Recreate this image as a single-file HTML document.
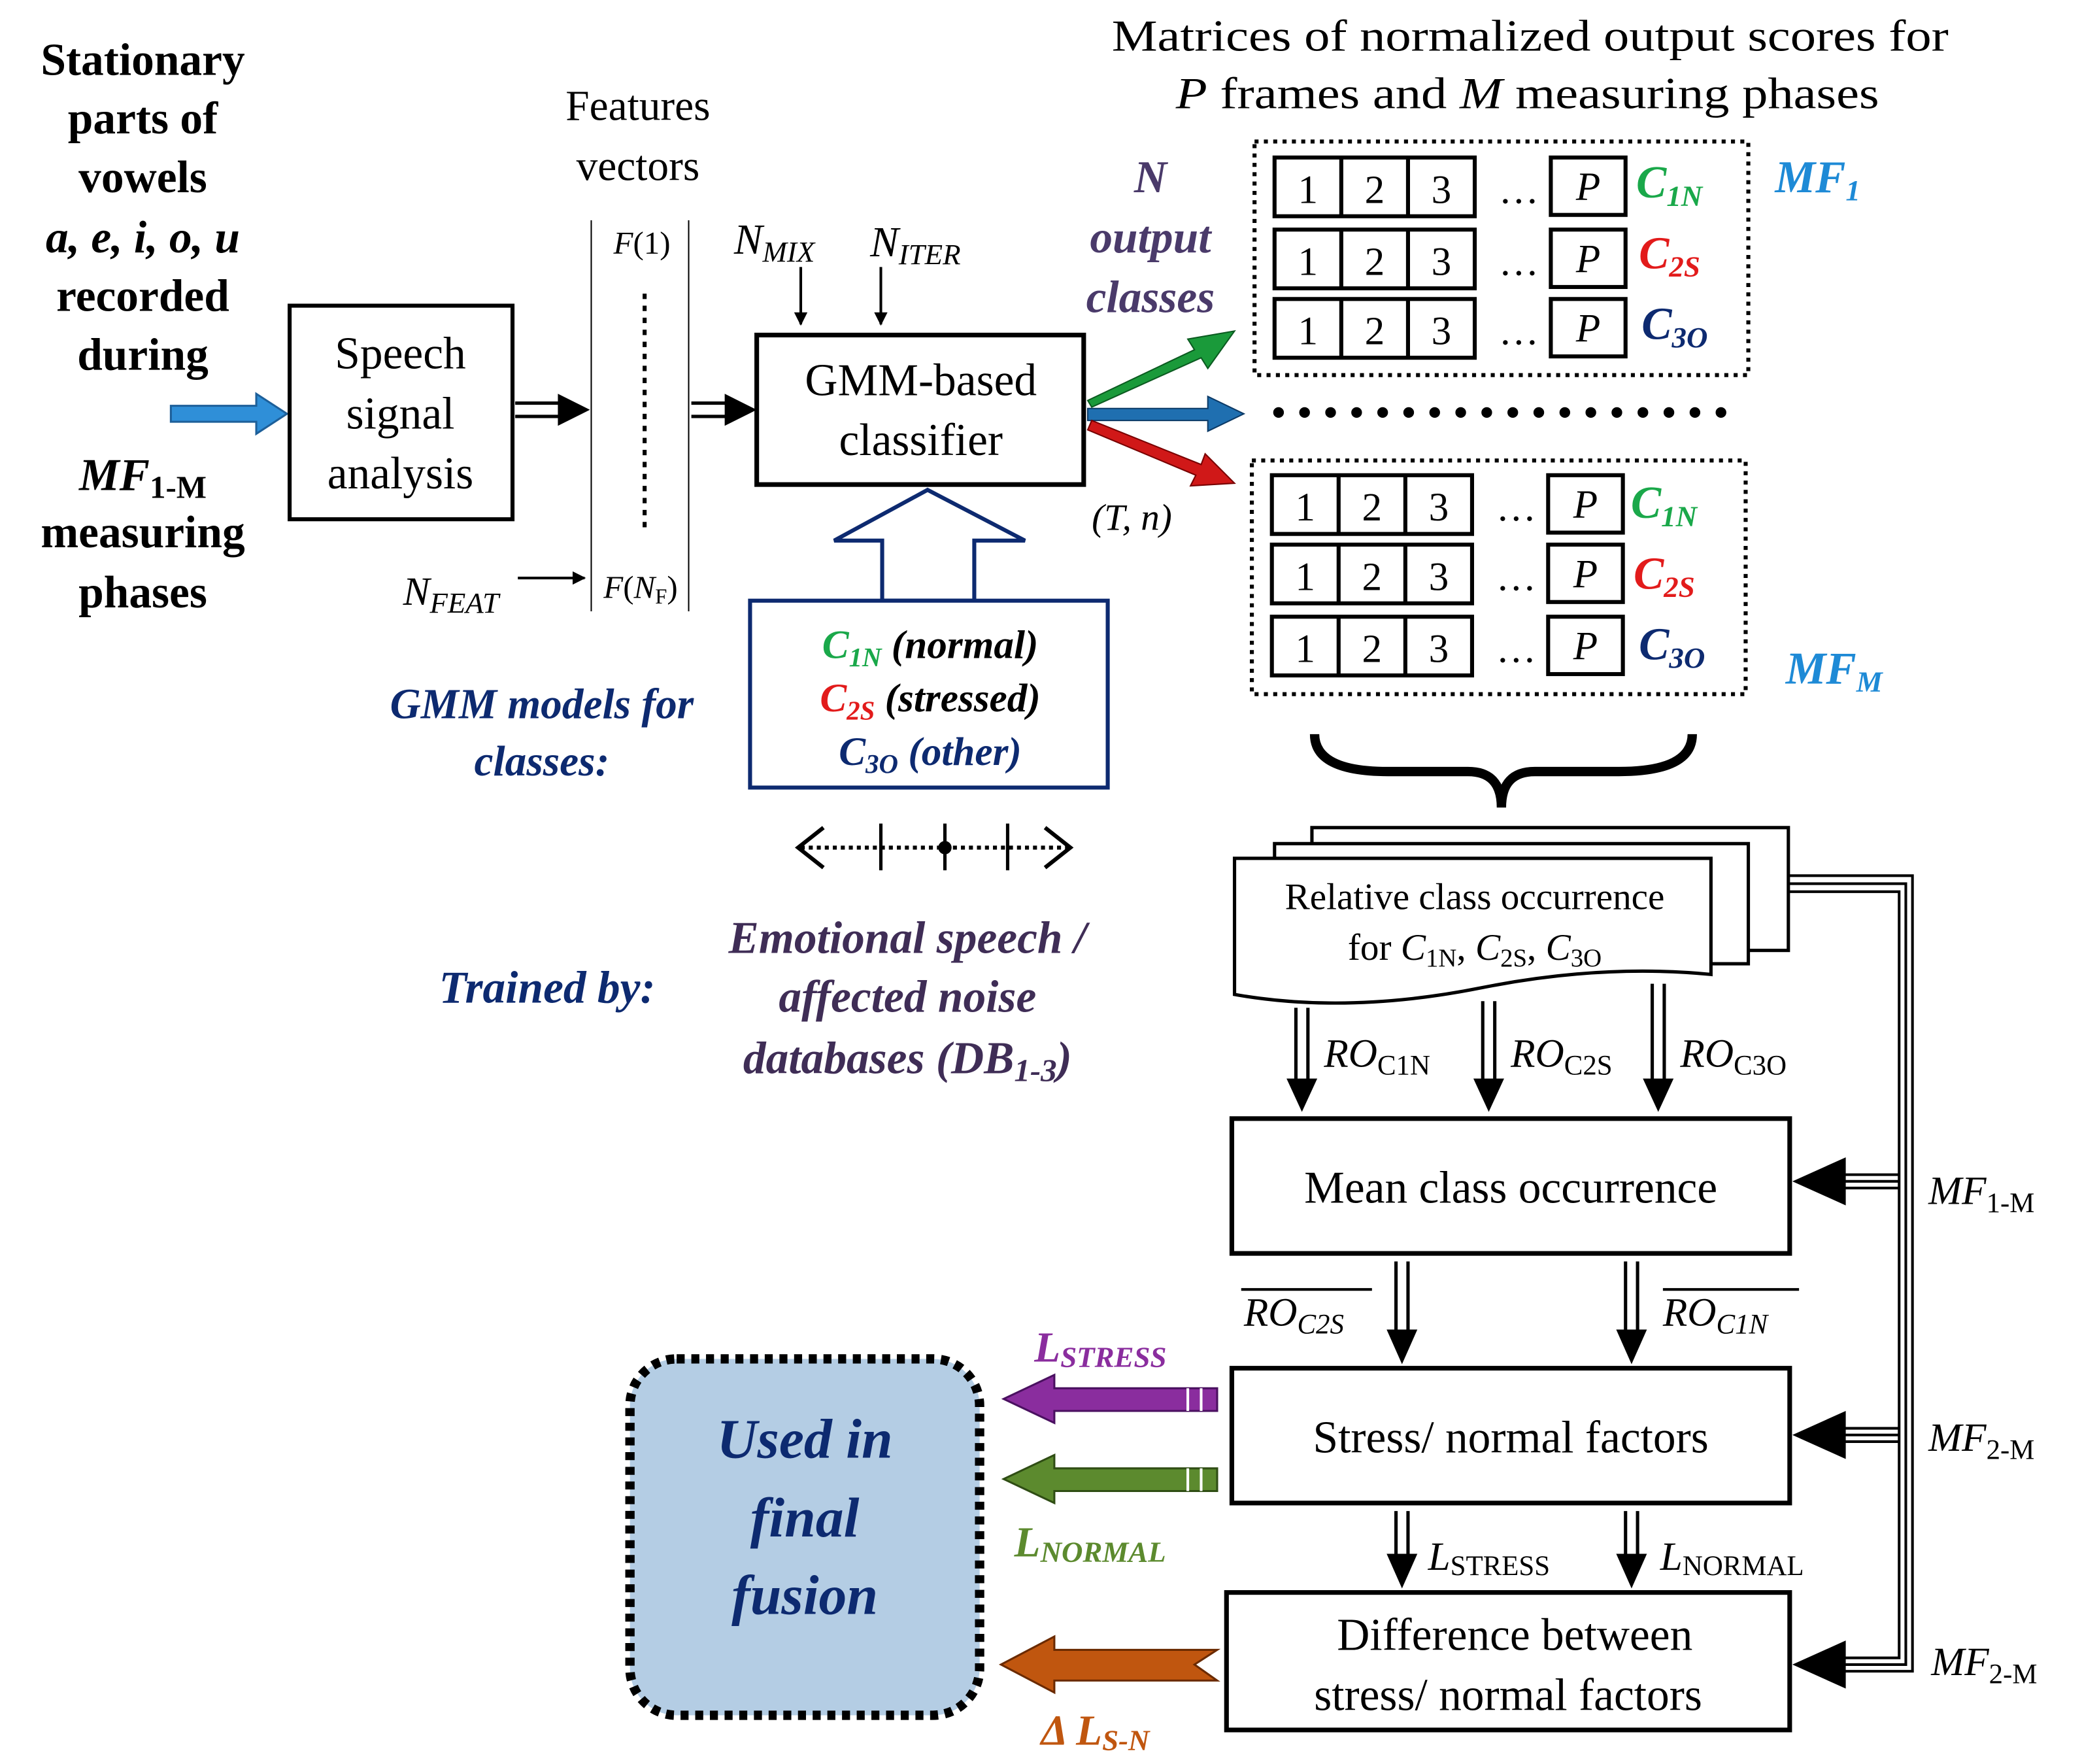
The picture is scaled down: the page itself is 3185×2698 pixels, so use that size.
<!DOCTYPE html>
<html><head><meta charset="utf-8"><style>
html,body{margin:0;padding:0;background:#fff}
svg{display:block}
text{font-family:"Liberation Serif",serif}
</style></head><body>
<svg width="3185" height="2698" viewBox="0 0 1560 1321.5" xmlns="http://www.w3.org/2000/svg">
<defs>
<marker id="ah" markerWidth="10" markerHeight="10" refX="9" refY="5" orient="auto" markerUnits="userSpaceOnUse"><path d="M0,0 L10,5 L0,10 Z" fill="#000"/></marker>
</defs>
<g font-weight="bold" font-size="34" text-anchor="middle">
<text x="107" y="56">Stationary</text>
<text x="107" y="100">parts of</text>
<text x="107" y="144">vowels</text>
<text x="107" y="189" font-style="italic">a, e, i, o, u</text>
<text x="107" y="233">recorded</text>
<text x="107" y="277">during</text>
<text x="107" y="367" font-style="italic">MF<tspan font-size="24" font-style="normal" dy="6">1-M</tspan></text>
<text x="107" y="410">measuring</text>
<text x="107" y="455">phases</text>
</g>
<polygon points="128,304 192,304 192,295 215,310 192,325 192,316 128,316" fill="#2f8fd8" stroke="#1d5f99" stroke-width="1.5"/>
<rect x="217" y="229" width="167" height="160" fill="#fff" stroke="#000" stroke-width="3"/>
<g font-size="34" text-anchor="middle"><text x="300" y="276">Speech</text><text x="300" y="321">signal</text><text x="300" y="366">analysis</text></g>
<g stroke="#000" stroke-width="2.5"><line x1="386" y1="302" x2="420" y2="302"/><line x1="386" y1="312" x2="420" y2="312"/></g>
<polygon points="418,295 442,307 418,319" fill="#000"/>
<g font-size="32" text-anchor="middle"><text x="478" y="90">Features</text><text x="478" y="135">vectors</text></g>
<g stroke="#000" stroke-width="1"><line x1="443" y1="165" x2="443" y2="458"/><line x1="516" y1="165" x2="516" y2="458"/></g>
<line x1="483" y1="220" x2="483" y2="398" stroke="#000" stroke-width="3" stroke-dasharray="4,5"/>
<text x="481" y="190" font-size="24" text-anchor="middle"><tspan font-style="italic">F</tspan>(1)</text>
<text x="480" y="448" font-size="24" text-anchor="middle"><tspan font-style="italic">F</tspan>(<tspan font-style="italic">N</tspan><tspan font-size="16" dy="4">F</tspan><tspan dy="-4">)</tspan></text>
<text x="302" y="453" font-size="30" font-style="italic">N<tspan font-size="22" dy="6">FEAT</tspan></text>
<line x1="388" y1="433" x2="438" y2="433" stroke="#000" stroke-width="2" marker-end="url(#ah)"/>
<g stroke="#000" stroke-width="2.5"><line x1="518" y1="302" x2="545" y2="302"/><line x1="518" y1="312" x2="545" y2="312"/></g>
<polygon points="543,295 567,307 543,319" fill="#000"/>
<rect x="567" y="251" width="245" height="112" fill="#fff" stroke="#000" stroke-width="3.5"/>
<g font-size="34" text-anchor="middle"><text x="690" y="296">GMM-based</text><text x="690" y="341">classifier</text></g>
<text x="550" y="190" font-size="32" font-style="italic">N<tspan font-size="22" dy="6">MIX</tspan></text>
<text x="652" y="192" font-size="32" font-style="italic">N<tspan font-size="22" dy="6">ITER</tspan></text>
<line x1="600" y1="200" x2="600" y2="243" stroke="#000" stroke-width="2" marker-end="url(#ah)"/>
<line x1="660" y1="200" x2="660" y2="243" stroke="#000" stroke-width="2" marker-end="url(#ah)"/>
<polygon points="661,450 661,405 625,405 695,367 768,405 730,405 730,450" fill="#fff" stroke="#0d2a70" stroke-width="3"/>
<rect x="562" y="450" width="268" height="140" fill="#fff" stroke="#0d2a70" stroke-width="3"/>
<g font-size="30" font-weight="bold" font-style="italic" text-anchor="middle">
<text x="697" y="493"><tspan fill="#1aa84a">C<tspan font-size="20" dy="6">1N</tspan></tspan><tspan dy="-6"> (normal)</tspan></text>
<text x="697" y="533"><tspan fill="#e21b1b">C<tspan font-size="20" dy="6">2S</tspan></tspan><tspan dy="-6"> (stressed)</tspan></text>
<text x="697" y="573"><tspan fill="#0d2a70">C<tspan font-size="20" dy="6">3O</tspan></tspan><tspan dy="-6" fill="#0d2a70"> (other)</tspan></text>
</g>
<g font-size="32" font-weight="bold" font-style="italic" fill="#0d2a70" text-anchor="middle">
<text x="406" y="538">GMM models for</text><text x="406" y="581">classes:</text>
<text x="410" y="751" font-size="34">Trained by:</text>
</g>
<line x1="600" y1="635" x2="800" y2="635" stroke="#000" stroke-width="3" stroke-dasharray="3,3"/>
<polyline points="617,620 598,635 617,650" fill="none" stroke="#000" stroke-width="3"/>
<polyline points="783,620 802,635 783,650" fill="none" stroke="#000" stroke-width="3"/>
<g stroke="#000" stroke-width="2.5"><line x1="660" y1="617" x2="660" y2="652"/><line x1="708" y1="617" x2="708" y2="652"/><line x1="755" y1="617" x2="755" y2="652"/></g>
<circle cx="708" cy="635" r="5" fill="#000"/>
<g font-size="34" font-weight="bold" font-style="italic" fill="#3f2d56" text-anchor="middle">
<text x="680" y="714">Emotional speech /</text><text x="680" y="758">affected noise</text><text x="680" y="804">databases (DB<tspan font-size="24" dy="6">1-3</tspan><tspan dy="-6">)</tspan></text>
</g>
<g font-size="34" font-weight="bold" font-style="italic" fill="#4a3a6a" text-anchor="middle">
<text x="862" y="144">N</text><text x="862" y="189">output</text><text x="862" y="234">classes</text>
</g>
<polygon points="815,300 895,262 890,254 925,248 905,276 900,268 818,305" fill="#1a9a3a" stroke="#0b5a20"/>
<polygon points="815,306 905,306 905,297 932,310 905,323 905,315 815,315" fill="#1f6fb0" stroke="#0c3a66"/>
<polygon points="818,315 900,348 903,340 925,362 892,364 896,356 815,322" fill="#d01818" stroke="#700"/>
<text x="818" y="397" font-size="28" font-style="italic">(T, n)</text>
<g font-size="33"><text x="833" y="38" textLength="627" lengthAdjust="spacingAndGlyphs">Matrices of normalized output scores for</text><text x="881" y="81" textLength="527" lengthAdjust="spacingAndGlyphs"><tspan font-style="italic">P</tspan> frames and <tspan font-style="italic">M</tspan> measuring phases</text></g>
<g fill="none" stroke="#000">
<rect x="940" y="106" width="370" height="175" stroke-width="3" stroke-dasharray="3,4"/>
<rect x="938" y="345" width="370" height="175" stroke-width="3" stroke-dasharray="3,4"/>
</g>
<g stroke="#000" stroke-width="3" fill="#fff">
<rect x="955" y="118" width="150" height="44"/><line x1="1005" y1="118" x2="1005" y2="162"/><line x1="1055" y1="118" x2="1055" y2="162"/><rect x="1162" y="118" width="56" height="43"/>
<rect x="955" y="172" width="150" height="44"/><line x1="1005" y1="172" x2="1005" y2="216"/><line x1="1055" y1="172" x2="1055" y2="216"/><rect x="1162" y="172" width="56" height="43"/>
<rect x="955" y="224" width="150" height="44"/><line x1="1005" y1="224" x2="1005" y2="268"/><line x1="1055" y1="224" x2="1055" y2="268"/><rect x="1162" y="224" width="56" height="43"/>
</g>
<g font-size="30" text-anchor="middle">
<text x="980" y="152">1</text><text x="1030" y="152">2</text><text x="1080" y="152">3</text><text x="1138" y="152">…</text><text x="1190" y="150" font-style="italic">P</text>
<text x="980" y="206">1</text><text x="1030" y="206">2</text><text x="1080" y="206">3</text><text x="1138" y="206">…</text><text x="1190" y="204" font-style="italic">P</text>
<text x="980" y="258">1</text><text x="1030" y="258">2</text><text x="1080" y="258">3</text><text x="1138" y="258">…</text><text x="1190" y="256" font-style="italic">P</text>
</g>
<g stroke="#000" stroke-width="3" fill="#fff">
<rect x="953" y="356" width="150" height="44"/><line x1="1003" y1="356" x2="1003" y2="400"/><line x1="1053" y1="356" x2="1053" y2="400"/><rect x="1160" y="356" width="56" height="43"/>
<rect x="953" y="408" width="150" height="44"/><line x1="1003" y1="408" x2="1003" y2="452"/><line x1="1053" y1="408" x2="1053" y2="452"/><rect x="1160" y="408" width="56" height="43"/>
<rect x="953" y="462" width="150" height="44"/><line x1="1003" y1="462" x2="1003" y2="506"/><line x1="1053" y1="462" x2="1053" y2="506"/><rect x="1160" y="462" width="56" height="43"/>
</g>
<g font-size="30" text-anchor="middle">
<text x="978" y="390">1</text><text x="1028" y="390">2</text><text x="1078" y="390">3</text><text x="1136" y="390">…</text><text x="1188" y="388" font-style="italic">P</text>
<text x="978" y="442">1</text><text x="1028" y="442">2</text><text x="1078" y="442">3</text><text x="1136" y="442">…</text><text x="1188" y="440" font-style="italic">P</text>
<text x="978" y="496">1</text><text x="1028" y="496">2</text><text x="1078" y="496">3</text><text x="1136" y="496">…</text><text x="1188" y="494" font-style="italic">P</text>
</g>
<g font-size="34" font-weight="bold" font-style="italic">
<text x="1226" y="148" fill="#1aa84a">C<tspan font-size="22" dy="6">1N</tspan></text>
<text x="1228" y="201" fill="#e21b1b">C<tspan font-size="22" dy="6">2S</tspan></text>
<text x="1230" y="254" fill="#0d2a70">C<tspan font-size="22" dy="6">3O</tspan></text>
<text x="1222" y="388" fill="#1aa84a">C<tspan font-size="22" dy="6">1N</tspan></text>
<text x="1224" y="441" fill="#e21b1b">C<tspan font-size="22" dy="6">2S</tspan></text>
<text x="1228" y="494" fill="#0d2a70">C<tspan font-size="22" dy="6">3O</tspan></text>
<text x="1330" y="144" fill="#1e8ad6">MF<tspan font-size="22" dy="6">1</tspan></text>
<text x="1338" y="512" fill="#1e8ad6">MF<tspan font-size="22" dy="6">M</tspan></text>
</g>
<line x1="958" y1="309" x2="1290" y2="309" stroke="#000" stroke-width="8" stroke-linecap="round" stroke-dasharray="0,19.5"/>
<path d="M985,550 Q985,578 1040,578 L1100,578 Q1125,578 1125,605 Q1125,578 1150,578 L1213,578 Q1268,578 1268,550" fill="none" stroke="#000" stroke-width="7"/>
<rect x="983" y="620" width="357" height="92" fill="#fff" stroke="#000" stroke-width="2.5"/>
<rect x="955" y="632" width="355" height="90" fill="#fff" stroke="#000" stroke-width="2.5"/>
<path d="M925,643 L1282,643 L1282,730 Q1200,722 1110,740 Q1010,760 925,745 Z" fill="#fff" stroke="#000" stroke-width="2.5"/>
<g font-size="28" text-anchor="middle"><text x="1105" y="681">Relative class occurrence</text>
<text x="1105" y="719">for <tspan font-style="italic">C</tspan><tspan font-size="19" dy="5">1N</tspan><tspan dy="-5">, </tspan><tspan font-style="italic">C</tspan><tspan font-size="19" dy="5">2S</tspan><tspan dy="-5">, </tspan><tspan font-style="italic">C</tspan><tspan font-size="19" dy="5">3O</tspan></text></g>
<g stroke="#000" stroke-width="2.5">
<line x1="971" y1="755" x2="971" y2="812"/><line x1="980" y1="755" x2="980" y2="812"/>
<line x1="1111" y1="750" x2="1111" y2="812"/><line x1="1120" y1="750" x2="1120" y2="812"/>
<line x1="1238" y1="737" x2="1238" y2="812"/><line x1="1247" y1="737" x2="1247" y2="812"/>
<line x1="1046" y1="945" x2="1046" y2="1000"/><line x1="1055" y1="945" x2="1055" y2="1000"/>
<line x1="1218" y1="945" x2="1218" y2="1000"/><line x1="1227" y1="945" x2="1227" y2="1000"/>
<line x1="1046" y1="1132" x2="1046" y2="1168"/><line x1="1055" y1="1132" x2="1055" y2="1168"/>
<line x1="1218" y1="1132" x2="1218" y2="1168"/><line x1="1227" y1="1132" x2="1227" y2="1168"/>
</g>
<g fill="#000">
<polygon points="964,808 987,808 975.5,833"/><polygon points="1104,808 1127,808 1115.5,833"/><polygon points="1231,808 1254,808 1242.5,833"/>
<polygon points="1039,996 1062,996 1050.5,1022"/><polygon points="1211,996 1234,996 1222.5,1022"/>
<polygon points="1039,1164 1062,1164 1050.5,1190"/><polygon points="1211,1164 1234,1164 1222.5,1190"/>
</g>
<g font-size="30" font-style="italic">
<text x="992" y="799">RO<tspan font-size="21" font-style="normal" dy="6">C1N</tspan></text>
<text x="1132" y="799">RO<tspan font-size="21" font-style="normal" dy="6">C2S</tspan></text>
<text x="1259" y="799">RO<tspan font-size="21" font-style="normal" dy="6">C3O</tspan></text>
<text x="932" y="993">RO<tspan font-size="21" dy="6">C2S</tspan></text>
<text x="1246" y="993">RO<tspan font-size="21" dy="6">C1N</tspan></text>
<text x="1070" y="1176">L<tspan font-size="21" font-style="normal" dy="4">STRESS</tspan></text>
<text x="1244" y="1176">L<tspan font-size="21" font-style="normal" dy="4">NORMAL</tspan></text>
<text x="1445" y="902">MF<tspan font-size="21" font-style="normal" dy="6">1-M</tspan></text>
<text x="1445" y="1087">MF<tspan font-size="21" font-style="normal" dy="6">2-M</tspan></text>
<text x="1447" y="1255">MF<tspan font-size="21" font-style="normal" dy="6">2-M</tspan></text>
</g>
<g stroke="#000" stroke-width="2"><line x1="930" y1="966" x2="1028" y2="966"/><line x1="1246" y1="966" x2="1348" y2="966"/></g>
<rect x="923" y="838" width="418" height="101" fill="#fff" stroke="#000" stroke-width="3.5"/>
<text x="1132" y="901" font-size="34" text-anchor="middle">Mean class occurrence</text>
<rect x="923" y="1025" width="418" height="101" fill="#fff" stroke="#000" stroke-width="3.5"/>
<text x="1132" y="1088" font-size="34" text-anchor="middle">Stress/ normal factors</text>
<rect x="919" y="1193" width="422" height="103" fill="#fff" stroke="#000" stroke-width="3.5"/>
<g font-size="34" text-anchor="middle"><text x="1135" y="1236">Difference between</text><text x="1130" y="1281">stress/ normal factors</text></g>
<g stroke="#000" stroke-width="2" fill="none">
<polyline points="1341,656 1433,656 1433,1252 1380,1252"/>
<polyline points="1341,662 1428,662 1428,1247 1380,1247"/>
<polyline points="1341,668 1423,668 1423,1242 1380,1242"/>
<line x1="1380" y1="880" x2="1423" y2="880"/><line x1="1380" y1="885" x2="1423" y2="885"/><line x1="1380" y1="890" x2="1423" y2="890"/>
<line x1="1380" y1="1070" x2="1423" y2="1070"/><line x1="1380" y1="1075" x2="1423" y2="1075"/><line x1="1380" y1="1080" x2="1423" y2="1080"/>
</g>
<g fill="#000">
<polygon points="1383,867 1343,885 1383,903"/>
<polygon points="1383,1057 1343,1075 1383,1093"/>
<polygon points="1383,1229 1343,1247 1383,1265"/>
</g>
<g stroke-width="1.5">
<polygon points="912,1040 790,1040 790,1030 752,1048 790,1066 790,1057 912,1057" fill="#8a2d9e" stroke="#4a1060"/>
<polygon points="912,1100 790,1100 790,1090 752,1108 790,1126 790,1117 912,1117" fill="#5c8a2e" stroke="#2f4d14"/>
<polygon points="912,1236 790,1236 790,1226 750,1247 790,1268 790,1259 912,1259 895,1247" fill="#c0560f" stroke="#6a2a00"/>
</g>
<g stroke="#fff" stroke-width="2"><line x1="890" y1="1040" x2="890" y2="1057"/><line x1="900" y1="1040" x2="900" y2="1057"/><line x1="890" y1="1100" x2="890" y2="1117"/><line x1="900" y1="1100" x2="900" y2="1117"/></g>
<g font-size="32" font-weight="bold" font-style="italic">
<text x="775" y="1020" fill="#8a2d9e">L<tspan font-size="22" dy="4">STRESS</tspan></text>
<text x="760" y="1166" fill="#5c8a2e">L<tspan font-size="22" dy="4">NORMAL</tspan></text>
<text x="780" y="1307" fill="#c0560f">Δ L<tspan font-size="22" dy="4">S-N</tspan></text>
</g>
<rect x="472" y="1018" width="262" height="267" rx="35" fill="#b4cde4" stroke="#000" stroke-width="7" stroke-dasharray="6,5"/>
<g font-size="42" font-weight="bold" font-style="italic" fill="#0d2a70" text-anchor="middle">
<text x="603" y="1092">Used in</text><text x="603" y="1151">final</text><text x="603" y="1209">fusion</text>
</g>
</svg>
</body></html>
